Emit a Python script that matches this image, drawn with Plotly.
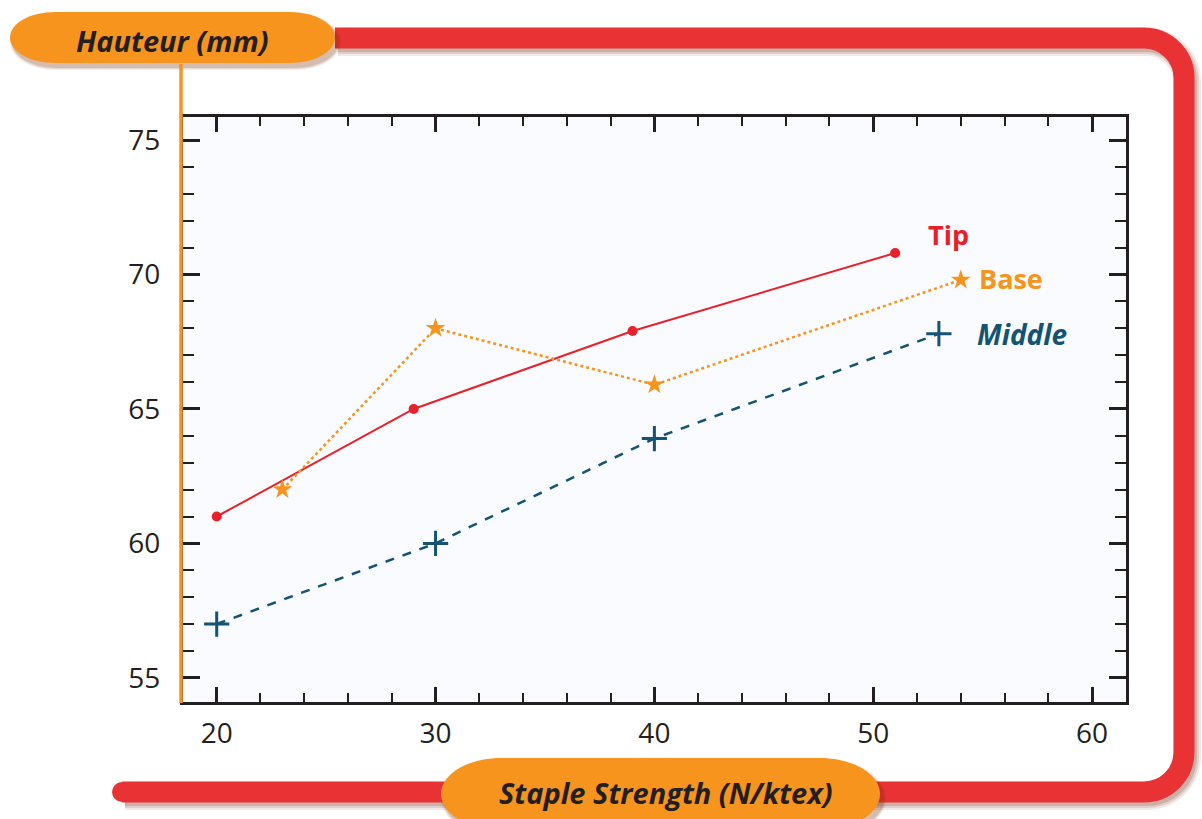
import plotly.graph_objects as go

# ---- data ----
tip_x = [20, 29, 39, 51]
tip_y = [61.0, 65.0, 67.9, 70.8]
base_x = [23, 30, 40, 54]
base_y = [62.0, 68.0, 65.9, 69.8]
mid_x = [20, 30, 40, 53]
mid_y = [57.0, 60.0, 63.9, 67.8]
x_ticks = [20, 30, 40, 50, 60]
y_ticks = [55, 60, 65, 70, 75]
series_names = ["Tip", "Base", "Middle"]

W, H = 1202, 819
L, R, T, B = 183, 1126, 117, 702


def px(x):
    return (x - L) / (R - L)


def py(y):
    return (B - y) / (B - T)


RED = "#e8202a"
ORANGE = "#f7941d"
BLUE = "#145372"

fig = go.Figure()
fig.add_trace(go.Scatter(x=tip_x, y=tip_y, mode="lines+markers", name=series_names[0],
                         line=dict(color=RED, width=2),
                         marker=dict(symbol="circle", size=10, color=RED)))
fig.add_trace(go.Scatter(x=base_x, y=base_y, mode="lines+markers", name=series_names[1],
                         line=dict(color=ORANGE, width=2.5, dash="dot"),
                         marker=dict(symbol="star", size=15, color=ORANGE)))
fig.add_trace(go.Scatter(x=mid_x, y=mid_y, mode="lines+markers", name=series_names[2],
                         line=dict(color=BLUE, width=2.5, dash="dash"),
                         marker=dict(symbol="cross-thin", size=18,
                                     line=dict(color=BLUE, width=3))))

shapes = []


def path_shape(d, color=None, width=0, fill=None, layer="above"):
    s = dict(type="path", path=d, xref="paper", yref="paper", layer=layer,
             line=dict(color=color or "rgba(0,0,0,0)", width=width))
    if fill:
        s["fillcolor"] = fill
    return s


def P(x, y):
    return f"{px(x):.5f},{py(y):.5f}"


def red_path(dx=0, dy=0):
    k = 0.5523
    r = 40
    x0, x1 = 122 + dx, 1184 + dx
    yb, yt = 792 + dy, 38 + dy
    xs = 335 + dx
    return (f"M {P(x0, yb)} L {P(x1 - r, yb)} "
            f"C {P(x1 - r + k * r, yb)} {P(x1, yb - r + k * r)} {P(x1, yb - r)} "
            f"L {P(x1, yt + r)} "
            f"C {P(x1, yt + r - k * r)} {P(x1 - r + k * r, yt)} {P(x1 - r, yt)} "
            f"L {P(xs, yt)}")


# shadow of red frame
for i, a in enumerate([0.10, 0.14, 0.18]):
    shapes.append(path_shape(red_path(3, 4), color=f"rgba(120,40,20,{a})", width=28 - 4 * i))
shapes.append(path_shape(red_path(), color="#e83234", width=21))
# rounded cap at left end
shapes.append(dict(type="circle", xref="paper", yref="paper",
                   x0=px(112), x1=px(132), y0=py(802), y1=py(782),
                   line=dict(width=0), fillcolor="#e83234"))


def pill(x0, x1, y0, y1, rx, dx=0, dy=0):
    k = 0.5523
    x0, x1, y0, y1 = x0 + dx, x1 + dx, y0 + dy, y1 + dy
    ym = (y0 + y1) / 2
    ry = (y1 - y0) / 2
    return (f"M {P(x0 + rx, y0)} L {P(x1 - rx, y0)} "
            f"C {P(x1 - rx + k * rx, y0)} {P(x1, ym - k * ry)} {P(x1, ym)} "
            f"C {P(x1, ym + k * ry)} {P(x1 - rx + k * rx, y1)} {P(x1 - rx, y1)} "
            f"L {P(x0 + rx, y1)} "
            f"C {P(x0 + rx - k * rx, y1)} {P(x0, ym + k * ry)} {P(x0, ym)} "
            f"C {P(x0, ym - k * ry)} {P(x0 + rx - k * rx, y0)} {P(x0 + rx, y0)} Z")


for (x0, x1, y0, y1, rx) in [(10, 335, 12, 63, 45), (441, 880, 758, 830, 60)]:
    for i, a in enumerate([0.08, 0.12, 0.16]):
        shapes.append(path_shape(pill(x0 - 3 + i, x1 + 3 - i, y0 - 2 + i, y1 + 3 - i, rx, 3, 4),
                                 fill=f"rgba(120,50,10,{a})"))
    shapes.append(path_shape(pill(x0, x1, y0, y1, rx), fill=ORANGE))

# orange vertical axis line
shapes.append(dict(type="line", xref="paper", yref="paper",
                   x0=px(181), x1=px(181), y0=py(64), y1=py(703),
                   line=dict(color=ORANGE, width=3.5), layer="above"))

annotations = [
    dict(text="<b><i>Hauteur (mm)</i></b>", xref="paper", yref="paper",
         x=px(172), y=py(40), showarrow=False, xanchor="center", yanchor="middle",
         font=dict(family="Open Sans", size=29, color="#231f20")),
    dict(text="<b><i>Staple Strength (N/ktex)</i></b>", xref="paper", yref="paper",
         x=px(666), y=py(793), showarrow=False, xanchor="center", yanchor="middle",
         font=dict(family="Open Sans", size=29, color="#231f20")),
    dict(text="<b>Tip</b>", x=53.45, y=71.5, showarrow=False, xanchor="center", yanchor="middle",
         font=dict(family="Open Sans", size=27, color=RED)),
    dict(text="<b>Base</b>", x=56.3, y=69.85, showarrow=False, xanchor="center", yanchor="middle",
         font=dict(family="Open Sans", size=27, color=ORANGE)),
    dict(text="<b><i>Middle</i></b>", x=56.8, y=67.8, showarrow=False, xanchor="center", yanchor="middle",
         font=dict(family="Open Sans", size=28, color=BLUE)),
]

axis_common = dict(showgrid=False, zeroline=False, showline=True, linewidth=3,
                   linecolor="#231f20", mirror="allticks", ticks="inside",
                   tickwidth=3, tickcolor="#231f20",
                   tickfont=dict(family="Open Sans", size=28, color="#231f20"))

fig.update_layout(
    width=W, height=H,
    margin=dict(l=L, r=W - R, t=T, b=H - B, pad=0),
    paper_bgcolor="white", plot_bgcolor="#f9fbfe",
    showlegend=False,
    shapes=shapes, annotations=annotations,
    xaxis=dict(range=[18.46, 61.55], tickvals=x_ticks, ticklen=15,
               minor=dict(dtick=2, tick0=20, ticks="inside", ticklen=9, tickwidth=2, tickcolor="#231f20"),
               ticklabelstandoff=4, **axis_common),
    yaxis=dict(range=[54.1, 75.86], tickvals=y_ticks, ticklen=17,
               minor=dict(dtick=1, tick0=55, ticks="inside", ticklen=11, tickwidth=2, tickcolor="#231f20"),
               ticklabelstandoff=14, **axis_common),
)

fig.write_html("out.html")
